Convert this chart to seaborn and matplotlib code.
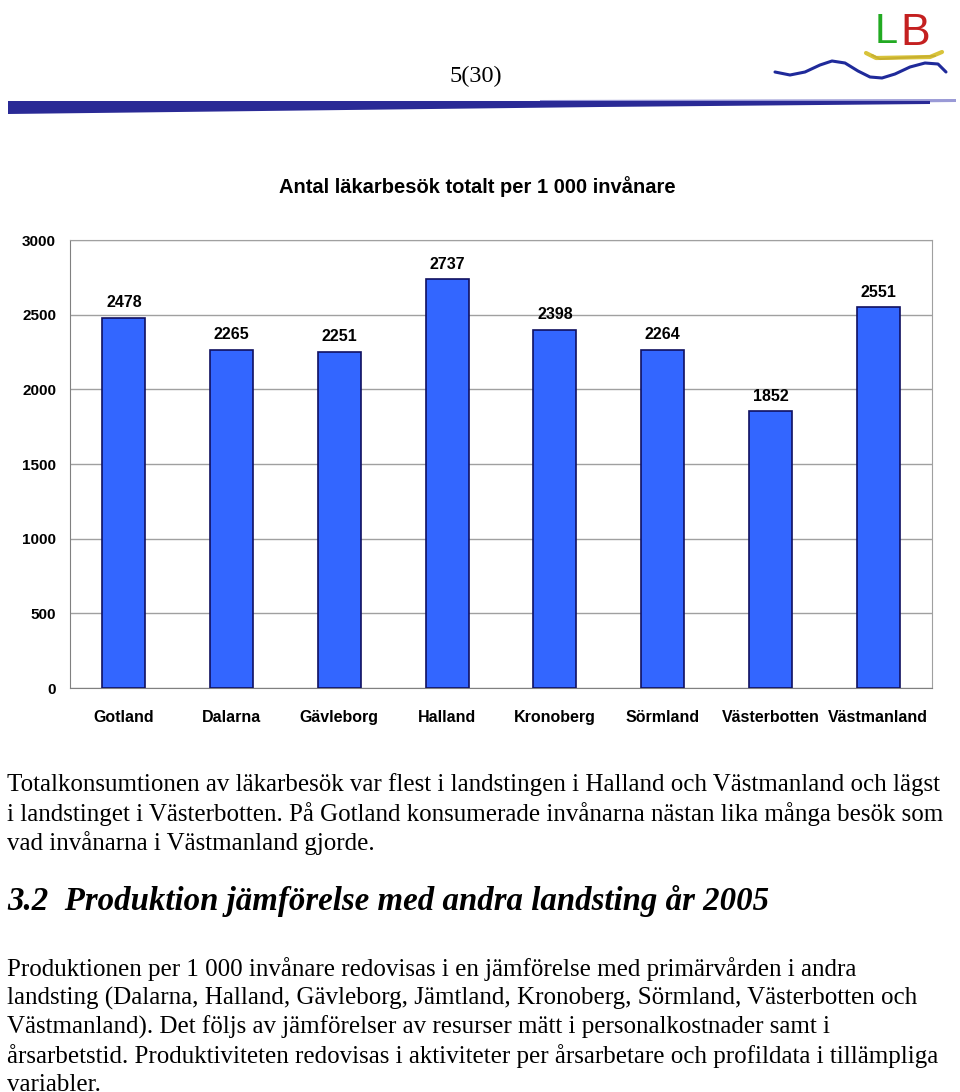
import numpy as np
import pandas as pd
import matplotlib
matplotlib.use('Agg')
import matplotlib.pyplot as plt
from matplotlib.patches import Polygon
import seaborn as sns

# data
landsting = ['Gotland', 'Dalarna', 'Gävleborg', 'Halland', 'Kronoberg',
             'Sörmland', 'Västerbotten', 'Västmanland']
besok = [2478, 2265, 2251, 2737, 2398, 2264, 1852, 2551]
y_ticks = [0, 500, 1000, 1500, 2000, 2500, 3000]

chart_title = 'Antal läkarbesök totalt per 1 000 invånare'
page_no = '5(30)'
para1 = ['Totalkonsumtionen av läkarbesök var flest i landstingen i Halland och Västmanland och lägst',
         'i landstinget i Västerbotten. På Gotland konsumerade invånarna nästan lika många besök som',
         'vad invånarna i Västmanland gjorde.']
heading = '3.2  Produktion jämförelse med andra landsting år 2005'
para2 = ['Produktionen per 1 000 invånare redovisas i en jämförelse med primärvården i andra',
         'landsting (Dalarna, Halland, Gävleborg, Jämtland, Kronoberg, Sörmland, Västerbotten och',
         'Västmanland). Det följs av jämförelser av resurser mätt i personalkostnader samt i',
         'årsarbetstid. Produktiviteten redovisas i aktiviteter per årsarbetare och profildata i tillämpliga',
         'variabler.']

df = pd.DataFrame({'landsting': landsting, 'besok': besok})

sns.set_style('white')
plt.rcParams['font.family'] = ['Liberation Sans', 'DejaVu Sans']
plt.rcParams['text.color'] = 'black'
plt.rcParams['xtick.color'] = 'black'
plt.rcParams['ytick.color'] = 'black'

fig = plt.figure(figsize=(9.6, 10.92), dpi=100)
W, H = 960, 1092

def fx(px):
    return px / W

def fy(py):
    return 1 - py / H

# ---- page header ----
fig.text(fx(476), fy(76), page_no, ha='center', va='center', fontsize=17.5,
         family='Liberation Serif')
band2 = Polygon([(fx(540), fy(100)), (fx(956), fy(99)), (fx(956), fy(102)),
                 (fx(540), fy(106))], closed=True, transform=fig.transFigure,
                color='#9a9ad6', lw=0)
fig.patches.append(band2)
band = Polygon([(fx(8), fy(101)), (fx(930), fy(101)), (fx(930), fy(104)),
                (fx(600), fy(107)), (fx(8), fy(114))], closed=True,
               transform=fig.transFigure, color='#2a2a96', lw=0)
fig.patches.append(band)

# small logo (decoration)
lax = fig.add_axes([fx(770), fy(85), fx(190), fy(0) - fy(85)])
lax.set_xlim(770, 960)
lax.set_ylim(85, 0)
lax.axis('off')
wave_x = [775, 790, 805, 820, 832, 845, 858, 870, 882, 895, 910, 925, 938, 946]
wave_y = [72, 75, 72, 65, 61, 63, 71, 77, 78, 74, 67, 63, 64, 72]
lax.plot(wave_x, wave_y, color='#1f2a9a', lw=2.2)
lax.plot([866, 876, 930, 942], [53, 58, 57, 52], color='#d8c33a', lw=3)
lax.plot([872, 880, 935], [55, 59, 56], color='#c8b030', lw=1.5)
lax.text(886, 52, 'L', color='#22aa22', fontsize=30, ha='center', va='bottom',
         family='Liberation Sans')
lax.text(915, 54, 'B', color='#c42020', fontsize=32, ha='center', va='bottom',
         family='Liberation Sans')

# ---- chart ----
ax = fig.add_axes([fx(70), fy(688), fx(932) - fx(70), fy(240) - fy(688)])
sns.barplot(data=df, x='landsting', y='besok', ax=ax, color='#3366ff',
            saturation=1, width=0.4, edgecolor='#101060', linewidth=1.2, zorder=3)
ax.set_ylim(0, 3000)
ax.set_yticks(y_ticks)
ax.set_yticklabels([str(v) for v in y_ticks], fontsize=11, fontweight='bold')
ax.set_xlim(-0.5, len(landsting) - 0.5)
ax.set_xlabel('')
ax.set_ylabel('')
ax.grid(axis='y', color='#a0a0a0', lw=1, zorder=0)
for s in ['top', 'right']:
    ax.spines[s].set_color('#a0a0a0')
ax.spines['left'].set_color('#808080')
ax.spines['bottom'].set_color('#808080')
ax.tick_params(axis='y', length=0, pad=10)
ax.tick_params(axis='x', length=0, pad=16)
# category separators on the x axis
ax.set_xticks(np.arange(len(landsting) + 1) - 0.5, minor=True)
ax.tick_params(axis='x', which='minor', length=5, color='#808080', direction='out')
for lbl in ax.get_xticklabels():
    lbl.set_fontsize(11.5)
    lbl.set_fontweight('bold')
for p, v in zip(ax.patches, besok):
    ax.text(p.get_x() + p.get_width() / 2, v + 50, str(v), ha='center', va='bottom',
            fontsize=11.5, fontweight='bold')

fig.text(fx(477), fy(187), chart_title, ha='center', va='center', fontsize=14.5,
         fontweight='bold')

# ---- body text ----
serif = 'Liberation Serif'
for i, line in enumerate(para1):
    fig.text(fx(7), fy(785 + 29 * i), line, ha='left', va='center', fontsize=18,
             family=serif)
fig.text(fx(7), fy(901), heading, ha='left', va='center', fontsize=23.7,
         family=serif, fontweight='bold', style='italic')
for i, line in enumerate(para2):
    fig.text(fx(7), fy(969 + 29 * i), line, ha='left', va='center', fontsize=18,
             family=serif)

fig.savefig('out.png', dpi=100)
